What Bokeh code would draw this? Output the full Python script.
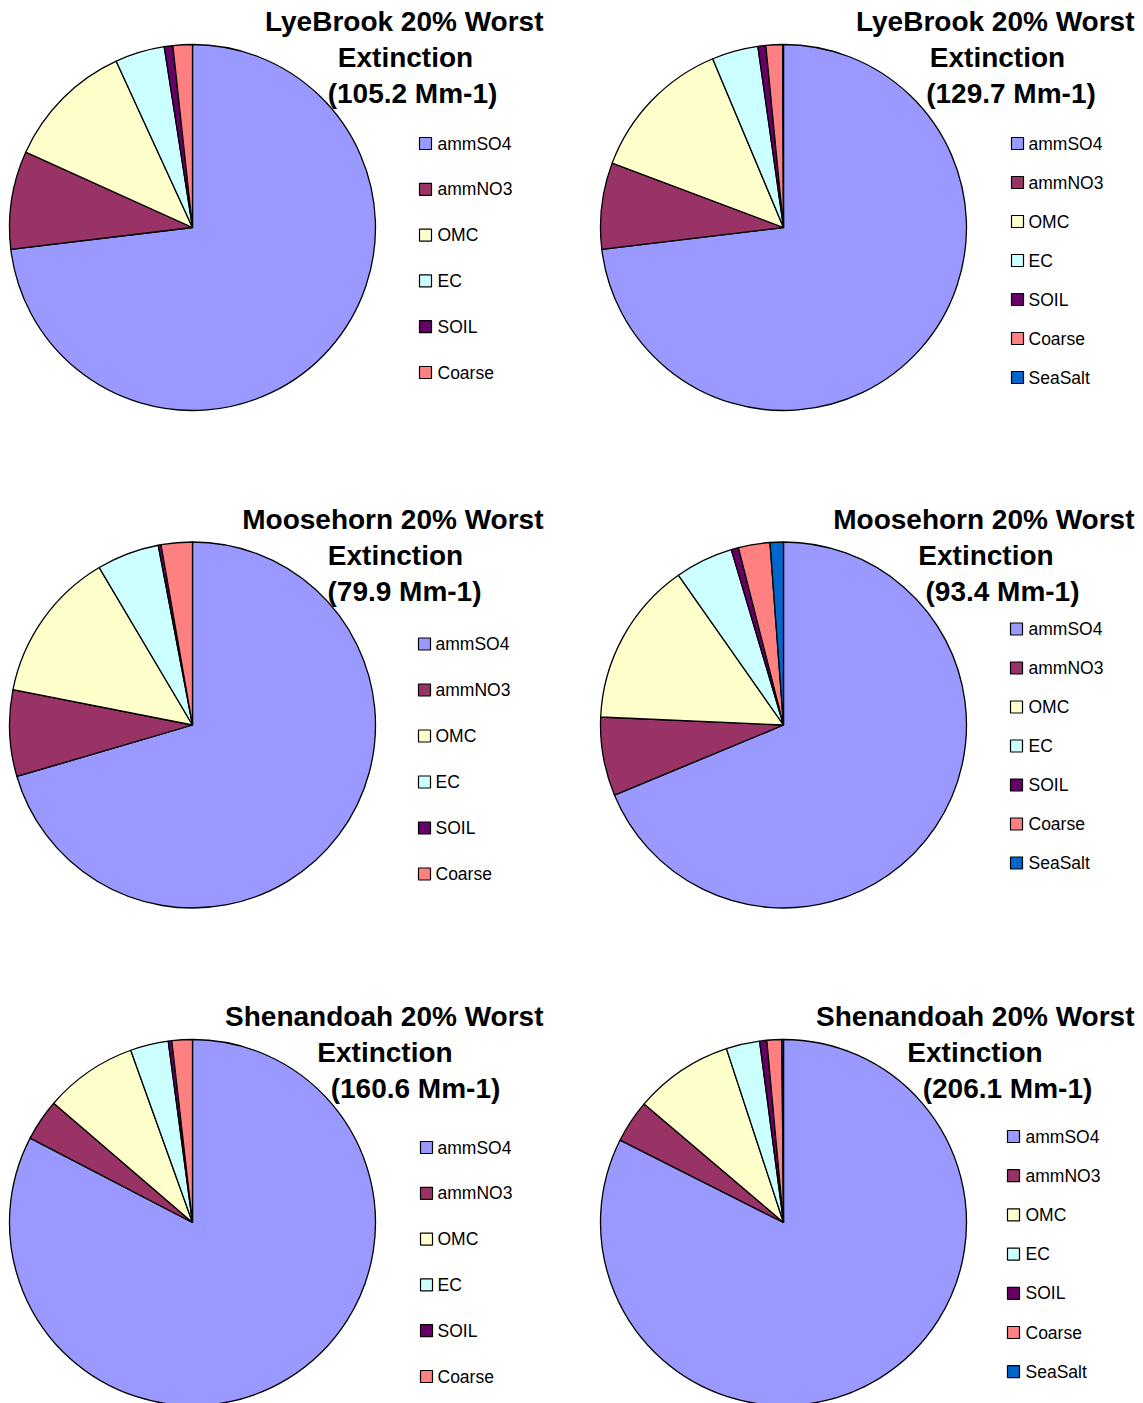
import numpy as np
from bokeh.plotting import figure
from bokeh.models import Range1d, ColumnDataSource
from bokeh.core.properties import value
from bokeh.embed import file_html
from bokeh.resources import INLINE

# ---------------- data (extinction, Mm-1) ----------------
components = ["ammSO4", "ammNO3", "OMC", "EC", "SOIL", "Coarse", "SeaSalt"]
colors = ["#9999FF", "#993366", "#FFFFCC", "#CCFFFF", "#660066", "#FF8080", "#0066CC"]

lyebrook_1 = [76.9, 9.1, 12.0, 4.6, 0.8, 1.8]
lyebrook_2 = [94.8, 9.9, 16.8, 5.3, 0.9, 1.9, 0.1]
moosehorn_1 = [56.3, 6.1, 10.7, 4.4, 0.2, 2.2]
moosehorn_2 = [64.2, 6.5, 13.6, 4.8, 0.6, 2.6, 1.1]
shenandoah_1 = [132.7, 5.9, 13.2, 5.4, 0.5, 2.9]
shenandoah_2 = [169.9, 7.8, 18.0, 6.1, 1.3, 2.7, 0.3]

sites = ["LyeBrook", "LyeBrook", "Moosehorn", "Moosehorn", "Shenandoah", "Shenandoah"]
totals = ["105.2", "129.7", "79.9", "93.4", "160.6", "206.1"]
series = [lyebrook_1, lyebrook_2, moosehorn_1, moosehorn_2, shenandoah_1, shenandoah_2]

# ---------------- layout (page pixels) ----------------
W, H = 1143, 1403
p = figure(width=W, height=H, x_range=Range1d(0, W), y_range=Range1d(1403 - H, 1403),
           output_backend="svg", toolbar_location=None, min_border=0)
p.axis.visible = False
p.grid.visible = False
p.outline_line_color = None
p.background_fill_color = "white"
p.border_fill_color = "white"

def Y(py):
    return 1403 - py

COL_DX = 591
ROW_DY = 497.5
R = 183
# per panel: (line2 centre, line3 centre, legend square x, legend text x, legend first y, legend step)
panel_layout = [
    (405, 412, 419, 437, 143, 45.8),
    (406, 419.5, 420, 437, 143, 39.0),
    (395, 404, 418, 435, 644 - 498, 46.0),
    (394.5, 411, 419, 437, 629 - 498, 39.0),
    (384.5, 415, 420, 437, 1148 - 996, 45.8),
    (383.5, 416, 416, 434, 1137 - 996, 39.2),
]

FONT = value("Liberation Sans")
TFS = "28px"

for i, vals in enumerate(series):
    col, row = i % 2, i // 2
    ox = COL_DX * col
    oy = ROW_DY * row
    cx, cy = 192 + ox, 227 + oy
    l2c, l3c, sqx, tx, ly0, lstep = panel_layout[i]

    v = np.array(vals, dtype=float)
    frac = v / v.sum()
    cum = np.concatenate([[0.0], np.cumsum(frac)])
    start = np.pi / 2 - cum[:-1] * 2 * np.pi
    end = np.pi / 2 - cum[1:] * 2 * np.pi
    n = len(vals)
    src = ColumnDataSource(dict(x=[cx] * n, y=[Y(cy)] * n, start=start, end=end,
                                color=colors[:n]))
    p.wedge(x="x", y="y", radius=R, start_angle="start", end_angle="end",
            direction="clock", fill_color="color", line_color="black",
            line_width=1.3, source=src)

    # title
    p.text(x=[543 + ox], y=[Y(21 + oy)], text=[f"{sites[i]} 20% Worst"],
           text_font=FONT, text_font_style="bold", text_font_size=TFS,
           text_align="right", text_baseline="middle", text_color="black")
    p.text(x=[l2c + ox], y=[Y(57 + oy)], text=["Extinction"],
           text_font=FONT, text_font_style="bold", text_font_size=TFS,
           text_align="center", text_baseline="middle", text_color="black")
    p.text(x=[l3c + ox], y=[Y(93 + oy)], text=[f"({totals[i]} Mm-1)"],
           text_font=FONT, text_font_style="bold", text_font_size=TFS,
           text_align="center", text_baseline="middle", text_color="black")

    # legend
    ys = [Y(ly0 + oy + k * lstep) for k in range(n)]
    p.rect(x=[sqx + ox + 6] * n, y=ys, width=12, height=12,
           fill_color=colors[:n], line_color="black", line_width=1.2)
    p.text(x=[tx + ox] * n, y=ys, text=components[:n], text_font=FONT,
           text_font_size="17.5px", text_align="left", text_baseline="middle",
           text_color="black")

open("out.html", "w").write(file_html(p, INLINE))
